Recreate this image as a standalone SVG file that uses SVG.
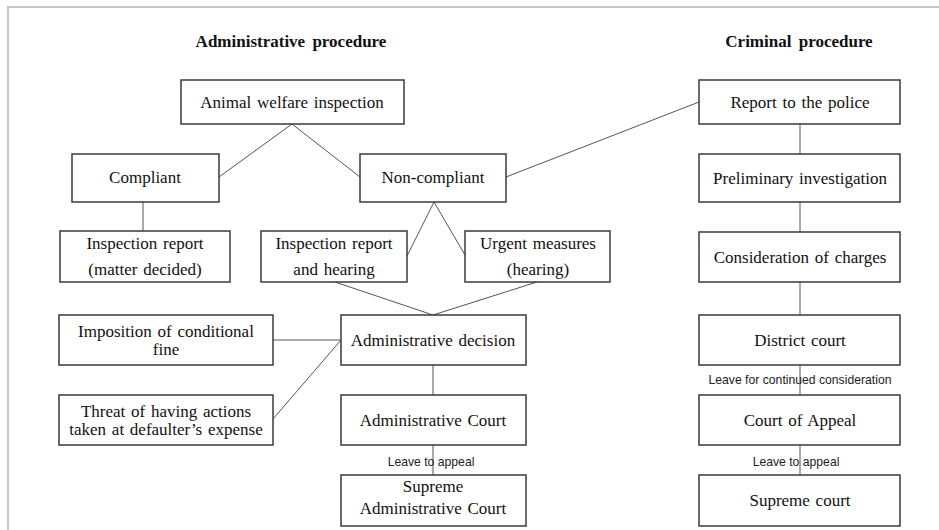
<svg xmlns="http://www.w3.org/2000/svg" width="939" height="530" viewBox="0 0 939 530">
<style>
.box{fill:#fff;stroke:#3a3a3a;stroke-width:1.5}
.t{font-family:"Liberation Serif","Times New Roman",serif;font-size:17px;fill:#111;text-anchor:middle;word-spacing:1.5px}
.h{font-family:"Liberation Serif","Times New Roman",serif;font-size:17px;font-weight:bold;fill:#111;text-anchor:middle;word-spacing:3px}
.c line{stroke:#555;stroke-width:1}
.lbl{font-family:"Liberation Sans",Arial,sans-serif;font-size:12.2px;fill:#222;text-anchor:middle}
</style>
<rect x="0" y="0" width="939" height="530" fill="#fff"/>
<path d="M8,530 V7 H939" fill="none" stroke="#c8c8c8" stroke-width="2"/>
<text class="h" x="291" y="47">Administrative procedure</text>
<text class="h" x="799" y="47">Criminal procedure</text>
<g class="c" id="connectors">
<line x1="292" y1="124" x2="219" y2="177"/>
<line x1="292" y1="124" x2="360" y2="177"/>
<line x1="143" y1="202" x2="143" y2="231"/>
<line x1="434" y1="202" x2="407" y2="256"/>
<line x1="434" y1="202" x2="465" y2="255"/>
<line x1="506" y1="177" x2="699" y2="102"/>
<line x1="335" y1="282" x2="433" y2="315"/>
<line x1="537" y1="282" x2="433" y2="315"/>
<line x1="273" y1="340" x2="341" y2="340"/>
<line x1="273" y1="419" x2="341" y2="340"/>
<line x1="433" y1="365" x2="433" y2="395"/>
<line x1="433" y1="445" x2="433" y2="475"/>
<line x1="800" y1="124" x2="800" y2="154"/>
<line x1="800" y1="202" x2="800" y2="232"/>
<line x1="800" y1="282" x2="800" y2="315"/>
<line x1="800" y1="365" x2="800" y2="395"/>
<line x1="800" y1="445" x2="800" y2="475"/>
<text class="lbl" x="431" y="466">Leave to appeal</text>
<text class="lbl" x="800" y="384">Leave for continued consideration</text>
<text class="lbl" x="796" y="466">Leave to appeal</text>
</g>
<g id="animal-welfare-inspection"><rect class="box" x="181" y="80" width="223" height="44"/><text class="t" x="292" y="108">Animal welfare inspection</text></g>
<g id="compliant"><rect class="box" x="72" y="154" width="147" height="48"/><text class="t" x="145" y="183">Compliant</text></g>
<g id="non-compliant"><rect class="box" x="360" y="154" width="146" height="48"/><text class="t" x="433" y="183">Non-compliant</text></g>
<g id="inspection-report-decided"><rect class="box" x="60" y="231" width="170" height="51"/><text class="t" x="145" y="249">Inspection report</text><text class="t" x="145" y="275">(matter decided)</text></g>
<g id="inspection-report-hearing"><rect class="box" x="261" y="231" width="146" height="51"/><text class="t" x="334" y="249">Inspection report</text><text class="t" x="334" y="275">and hearing</text></g>
<g id="urgent-measures"><rect class="box" x="465" y="231" width="145" height="51"/><text class="t" x="538" y="249">Urgent measures</text><text class="t" x="538" y="275">(hearing)</text></g>
<g id="conditional-fine"><rect class="box" x="59" y="315" width="214" height="50"/><text class="t" x="166" y="337">Imposition of conditional</text><text class="t" x="166" y="355">fine</text></g>
<g id="threat"><rect class="box" x="59" y="395" width="214" height="50"/><text class="t" x="166" y="417">Threat of having actions</text><text class="t" x="166" y="435">taken at defaulter’s expense</text></g>
<g id="administrative-decision"><rect class="box" x="341" y="315" width="185" height="50"/><text class="t" x="433" y="346">Administrative decision</text></g>
<g id="administrative-court"><rect class="box" x="341" y="395" width="185" height="50"/><text class="t" x="433" y="426">Administrative Court</text></g>
<g id="supreme-administrative-court"><rect class="box" x="341" y="475" width="185" height="51"/><text class="t" x="433" y="492">Supreme</text><text class="t" x="433" y="514">Administrative Court</text></g>
<g id="report-to-police"><rect class="box" x="699" y="80" width="201" height="44"/><text class="t" x="800" y="108">Report to the police</text></g>
<g id="preliminary-investigation"><rect class="box" x="699" y="154" width="201" height="48"/><text class="t" x="800" y="184">Preliminary investigation</text></g>
<g id="consideration-of-charges"><rect class="box" x="699" y="232" width="201" height="50"/><text class="t" x="800" y="263">Consideration of charges</text></g>
<g id="district-court"><rect class="box" x="699" y="315" width="201" height="50"/><text class="t" x="800" y="346">District court</text></g>
<g id="court-of-appeal"><rect class="box" x="699" y="395" width="201" height="50"/><text class="t" x="800" y="426">Court of Appeal</text></g>
<g id="supreme-court"><rect class="box" x="699" y="475" width="201" height="51"/><text class="t" x="800" y="506">Supreme court</text></g>
</svg>
